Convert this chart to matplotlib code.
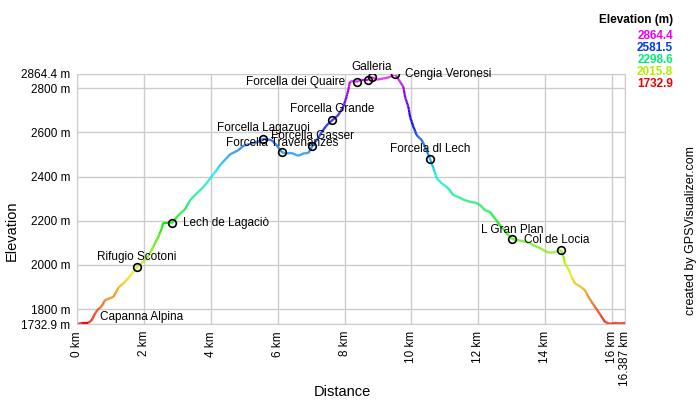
import numpy as np
import matplotlib
matplotlib.use("Agg")
import matplotlib.pyplot as plt
from matplotlib.collections import LineCollection
from matplotlib.colors import hsv_to_rgb

plt.rcParams["font.family"] = ["Liberation Sans", "DejaVu Sans"]

# Elevation profile
dist_km = [0.00, 0.04, 0.14, 0.34, 0.44, 0.54, 0.64, 0.74, 0.84, 0.94,
           1.09, 1.19, 1.24, 1.38, 1.53, 1.68, 1.79, 1.93, 2.08, 2.18,
           2.33, 2.43, 2.53, 2.58, 2.73, 2.85, 3.03, 3.23, 3.38, 3.58,
           3.78, 3.98, 4.13, 4.28, 4.43, 4.58, 4.82, 4.97, 5.22, 5.42,
           5.57, 5.82, 5.97, 6.13, 6.27, 6.42, 6.62, 6.77, 6.92, 7.04,
           7.17, 7.32, 7.47, 7.63, 7.81, 7.96, 8.06, 8.11, 8.16, 8.26,
           8.36, 8.51, 8.71, 8.81, 8.96, 9.16, 9.36, 9.51, 9.66, 9.76,
           9.81, 9.91, 9.96, 10.06, 10.16, 10.31, 10.41, 10.56, 10.66, 10.76,
           10.91, 11.06, 11.15, 11.25, 11.40, 11.55, 11.75, 11.95, 12.05, 12.20,
           12.35, 12.50, 12.65, 12.85, 13.02, 13.25, 13.49, 13.64, 13.85, 14.06,
           14.23, 14.47, 14.54, 14.59, 14.69, 14.79, 14.89, 15.04, 15.19, 15.29,
           15.39, 15.49, 15.59, 15.69, 15.79, 15.94, 16.09, 16.24, 16.387]
elev_m = [1732.9, 1733, 1738, 1738, 1750, 1781, 1801, 1814, 1841, 1847,
          1856, 1883, 1898, 1916, 1939, 1969, 1990, 2007, 2029, 2052,
          2097, 2127, 2165, 2190, 2190, 2191, 2225, 2252, 2293, 2324,
          2353, 2391, 2421, 2452, 2477, 2501, 2519, 2539, 2550, 2557,
          2571, 2565, 2542, 2510, 2505, 2507, 2494, 2505, 2507, 2539,
          2565, 2602, 2633, 2655, 2678, 2715, 2761, 2791, 2829, 2833,
          2829, 2839, 2839, 2851, 2839, 2844, 2851, 2864.4, 2829, 2806,
          2761, 2715, 2670, 2625, 2587, 2565, 2534, 2479, 2437, 2391,
          2369, 2353, 2338, 2316, 2308, 2296, 2286, 2281, 2271, 2248,
          2240, 2210, 2180, 2143, 2117, 2110, 2103, 2090, 2076, 2058,
          2056, 2067, 2044, 2007, 1984, 1946, 1916, 1904, 1886, 1856,
          1833, 1810, 1788, 1765, 1742, 1733, 1738, 1735, 1738]

# Waypoints
wpt_names = ["Rifugio Scotoni", "Lech de Lagaciò", "Forcella Lagazuoi",
             "Forcella Travenanzes", "Forcella Gasser", "Forcella Grande",
             "Forcella dei Quaire", "", "Galleria", "Cengia Veronesi",
             "Forcela dl Lech", "L Gran Plan", "Col de Locia"]
wpt_km = [1.79, 2.85, 5.57, 6.13, 7.04, 7.63, 8.36, 8.71, 8.81, 9.51,
          10.56, 13.02, 14.47]

legend_vals = [2864.4, 2581.5, 2298.6, 2015.8, 1732.9]
ytick_vals = [1732.9, 1800, 2000, 2200, 2400, 2600, 2800, 2864.4]
xtick_vals = [0, 2, 4, 6, 8, 10, 12, 14, 16, 16.387]

x = np.array(dist_km)
y = np.array(elev_m)
ymin, ymax = min(elev_m), max(elev_m)


def elev_color(v):
    # hue runs red -> yellow -> green -> cyan -> blue -> magenta
    frac = (np.asarray(v) - ymin) / (ymax - ymin)
    hsv = np.stack([frac * 300 / 360, np.ones_like(frac), np.full_like(frac, 0.93)], axis=-1)
    return hsv_to_rgb(hsv)


fig = plt.figure(figsize=(7, 4), dpi=100)
ax = fig.add_axes([77 / 700, 1 - 324 / 400, 548 / 700, 250 / 400])

ax.set_xlim(0, 16.387)
ax.set_ylim(ymin, ymax)

# grid and frame
ax.set_xticks(xtick_vals)
ax.set_xticklabels(["%g km" % t for t in xtick_vals], rotation=90, fontsize=8.5)
ax.set_yticks(ytick_vals)
ax.set_yticklabels(["%g m" % t for t in ytick_vals], fontsize=8.5)
ax.tick_params(length=0, pad=5)
ax.grid(True, color="#cccccc", linewidth=1)
ax.set_axisbelow(True)
for s in ax.spines.values():
    s.set_color("#cccccc")

# colored profile line
xf = np.linspace(x[0], x[-1], 1200)
yf = np.interp(xf, x, y)
pts = np.column_stack([xf, yf]).reshape(-1, 1, 2)
segs = np.concatenate([pts[:-1], pts[1:]], axis=1)
lc = LineCollection(segs, colors=elev_color((yf[:-1] + yf[1:]) / 2), linewidth=1.6)
ax.add_collection(lc)

# waypoints
label_off = [(0, 10, "center"), (11, 0, "left"), (0, 11, "center"),
             (0, 9, "center"), (0, 10, "center"), (0, 11, "center"),
             (-11, 0, "right"), (0, 0, "center"), (0, 10, "center"),
             (10, 0, "left"), (0, 10, "center"), (0, 9, "center"),
             (-4, 10, "center")]
wy = np.interp(wpt_km, x, y)
ax.plot(wpt_km, wy, "o", ms=5.5, mfc="none", mec="black", mew=1.2, zorder=5)
for name, km, e, (dx, dy, ha) in zip(wpt_names, wpt_km, wy, label_off):
    if name:
        ax.annotate(name, (km, e), xytext=(dx, dy), textcoords="offset pixels",
                    ha=ha, va="center", fontsize=8.5)
ax.annotate("Capanna Alpina", (0, ymin), xytext=(23, 7), textcoords="offset pixels",
            ha="left", va="center", fontsize=8.5)

fig.text(342 / 700, 1 - 392 / 400, "Distance", ha="center", va="center", fontsize=10.5)
fig.text(12 / 700, 1 - 231 / 400, "Elevation", rotation=90, ha="center",
         va="center", fontsize=10.5)
fig.text(691 / 700, 1 - 231 / 400, "created by GPSVisualizer.com", rotation=90,
         ha="center", va="center", fontsize=9)

# color legend
fig.text(673 / 700, 1 - 20 / 400, "Elevation (m)", ha="right", va="center",
         fontsize=8.5, fontweight="bold")
for i, v in enumerate(legend_vals):
    fig.text(673 / 700, 1 - (36 + i * 12) / 400, "%.1f" % v, ha="right", va="center",
             fontsize=8.5, fontweight="bold", color=elev_color(v))

fig.savefig("out.png", dpi=100)
